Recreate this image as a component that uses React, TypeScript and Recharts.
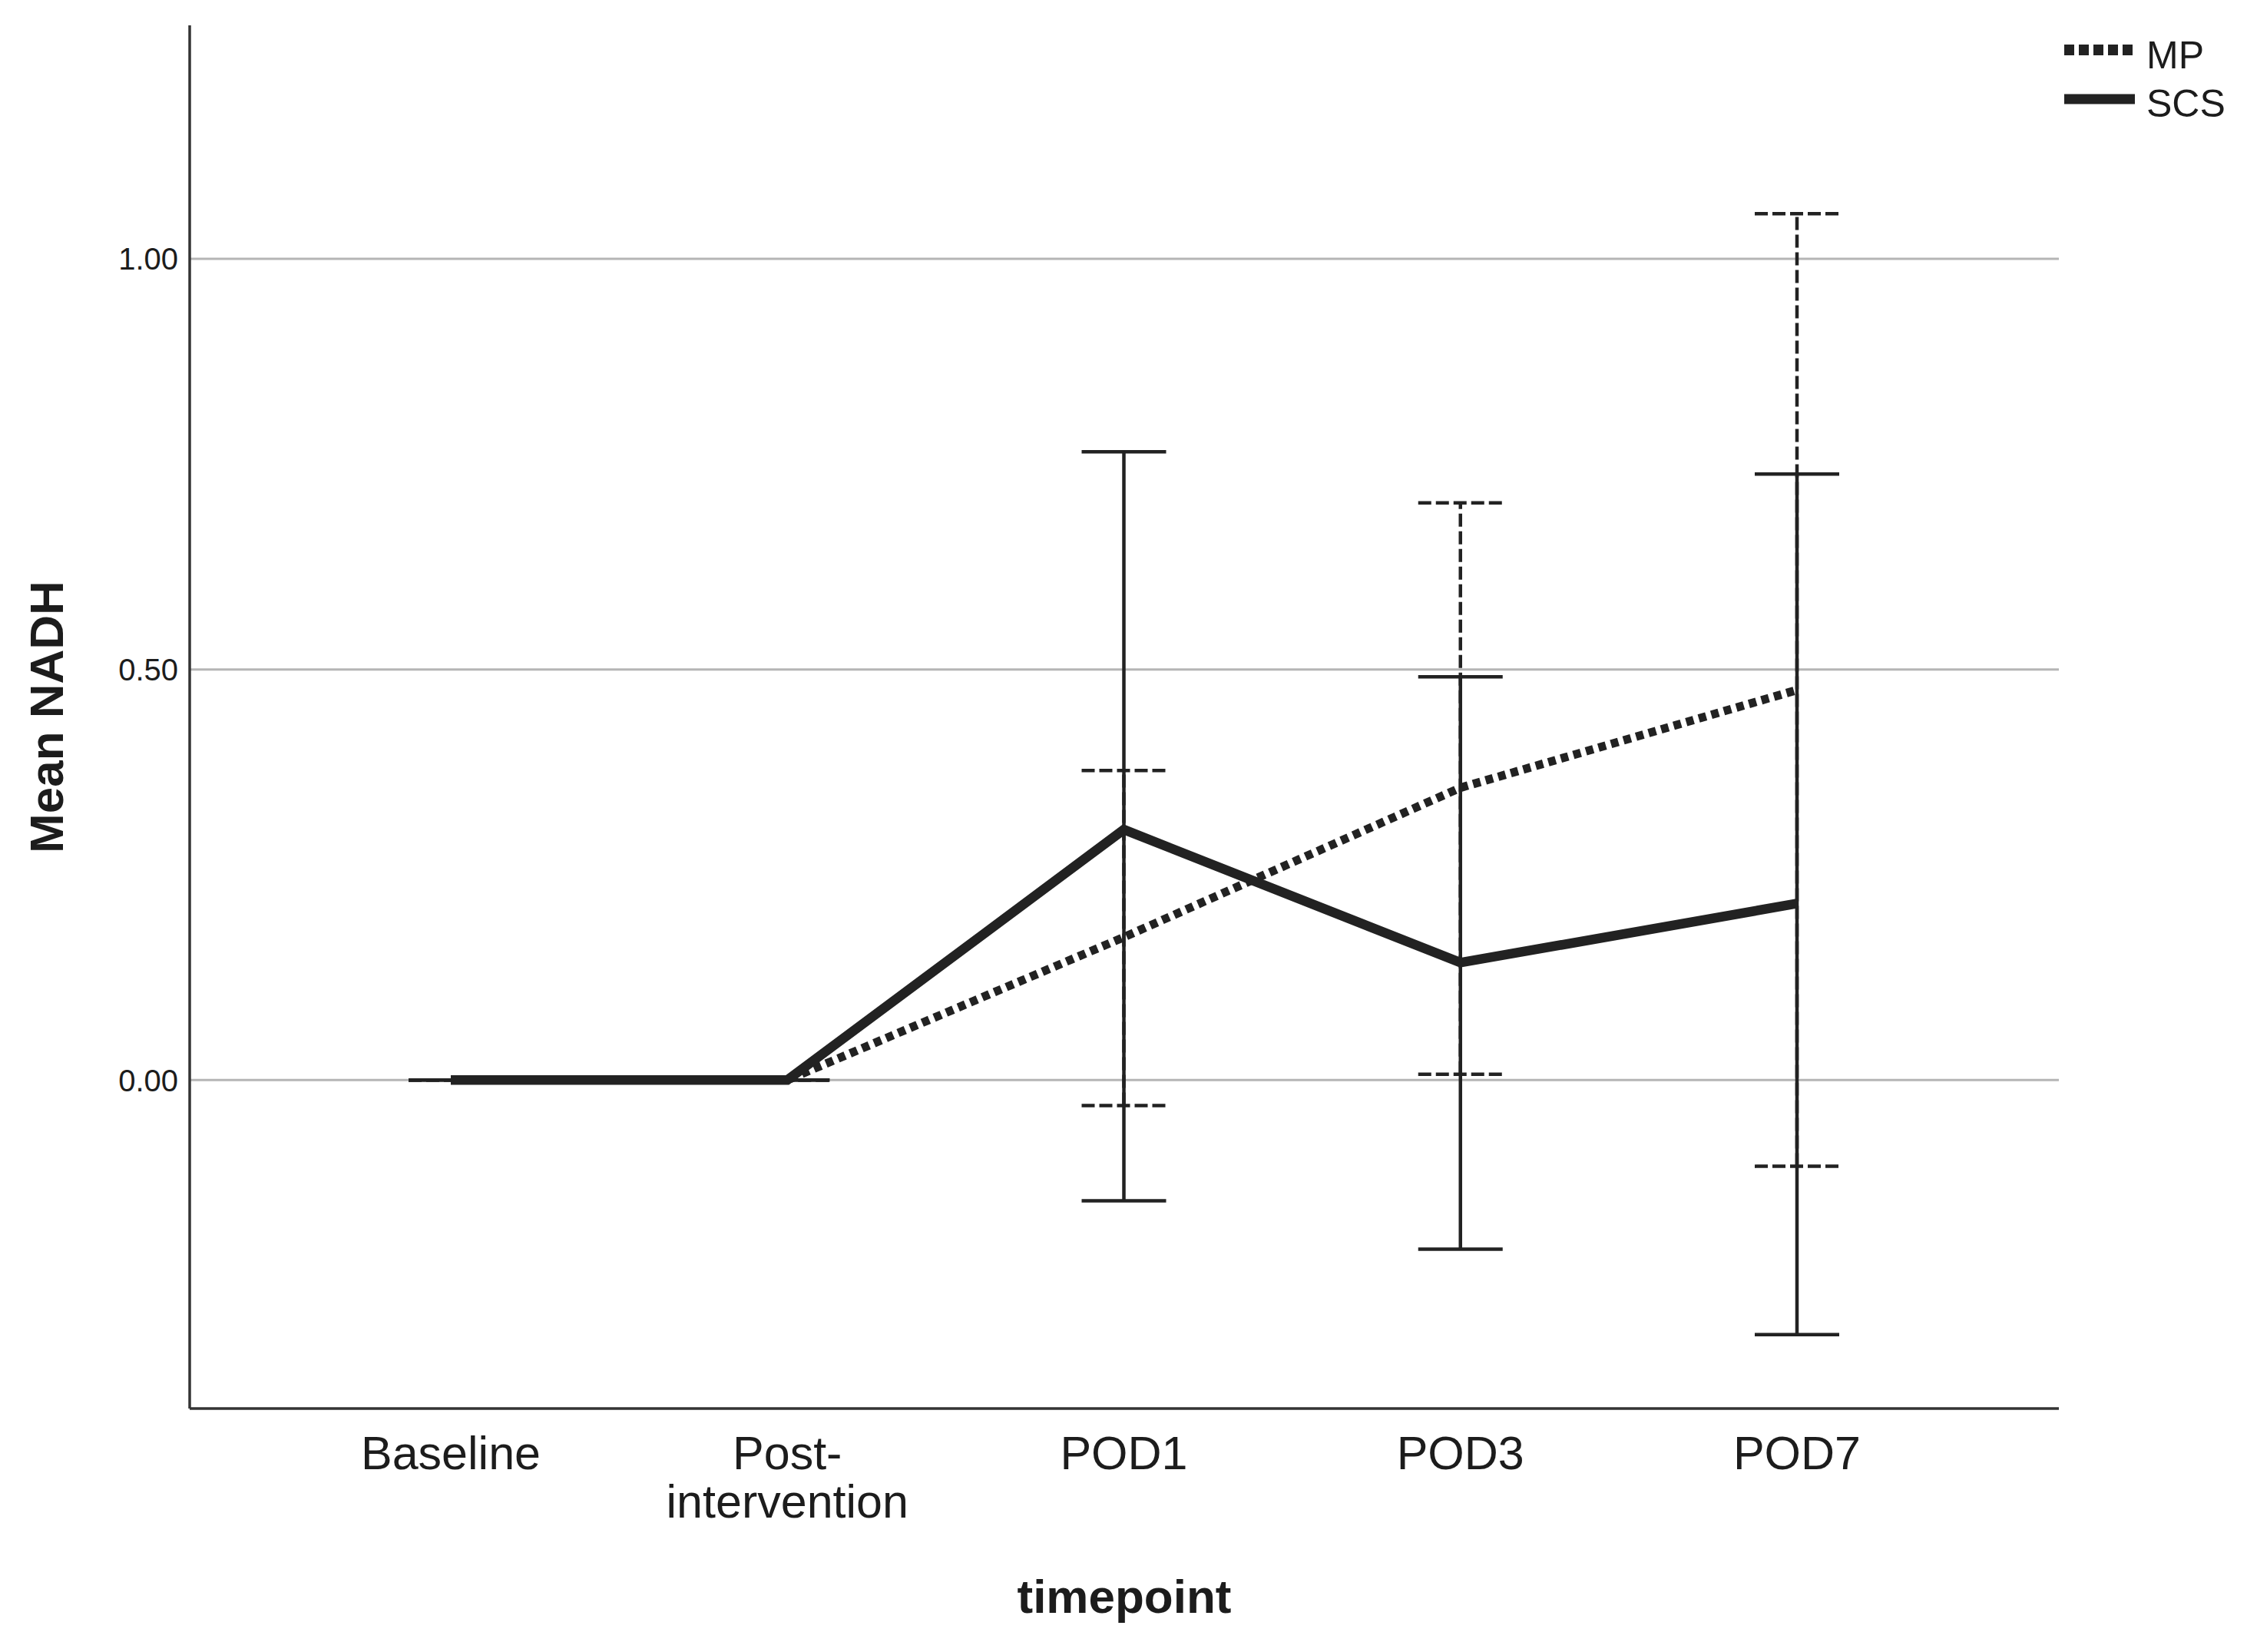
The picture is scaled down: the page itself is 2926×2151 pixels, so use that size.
import React from 'react';
import { LineChart, Line, XAxis, YAxis, CartesianGrid, ErrorBar, Legend, Label } from 'recharts';

const categories = ['Baseline', 'Post-\nintervention', 'POD1', 'POD3', 'POD7'];
const mpMean = [0, 0, 0.174, 0.356, 0.475];
const mpLow = [0, 0, -0.031, 0.007, -0.105];
const mpHigh = [0, 0, 0.377, 0.703, 1.055];
const scsMean = [0, 0, 0.305, 0.143, 0.215];
const scsLow = [0, 0, -0.147, -0.206, -0.31];
const scsHigh = [0, 0, 0.765, 0.491, 0.738];
const yTicks = [0, 0.5, 1.0];
const yDomain: [number, number] = [-0.4, 1.2844];

const data = categories.map((name, i) => ({
  name,
  MP: mpMean[i],
  mpErr: [mpMean[i] - mpLow[i], mpHigh[i] - mpMean[i]],
  SCS: scsMean[i],
  scsErr: [scsMean[i] - scsLow[i], scsHigh[i] - scsMean[i]],
}));

const FONT = '"Liberation Sans", Arial, Helvetica, sans-serif';
const INK = '#222222';
const TEXT = '#1c1c1c';

const XTick = (props: any) => {
  const { x, y, payload } = props;
  const lines = String(payload.value).split('\n');
  return (
    <text x={x} y={y} textAnchor="middle" fill={TEXT} fontSize={61} fontFamily={FONT}>
      {lines.map((l, i) => (
        <tspan key={i} x={x} dy={i === 0 ? 79 : 63}>
          {l}
        </tspan>
      ))}
    </text>
  );
};

const LegendContent = () => (
  <svg width={240} height={170} style={{ display: 'block' }}>
    <line x1={8} y1={65} x2={100} y2={65} stroke={INK} strokeWidth={14} strokeDasharray="13 6" />
    <text x={115} y={89} fontSize={50} fontFamily={FONT} fill={TEXT}>MP</text>
    <line x1={8} y1={129} x2={100} y2={129} stroke={INK} strokeWidth={13} />
    <text x={115} y={152} fontSize={50} fontFamily={FONT} fill={TEXT}>SCS</text>
  </svg>
);

export default function App() {
  return (
    <div style={{ position: 'absolute', left: 0, top: 0, background: '#fff' }}>
      <LineChart
        width={2926}
        height={2151}
        data={data}
        margin={{ top: 33, right: 245, left: 0, bottom: 0 }}
      >
        <CartesianGrid
          vertical={false}
          horizontalValues={yTicks}
          stroke="#b5b5b5"
          strokeWidth={3}
        />
        <XAxis
          dataKey="name"
          type="category"
          scale="point"
          padding={{ left: 340, right: 341 }}
          height={317}
          tickLine={false}
          tickSize={0}
          tickMargin={0}
          interval={0}
          axisLine={{ stroke: '#333', strokeWidth: 3.5 }}
          tick={<XTick />}
        >
          <Label
            content={(p: any) => {
              const vb = p.viewBox;
              return (
                <text
                  x={vb.x + vb.width / 2}
                  y={vb.y + 266}
                  textAnchor="middle"
                  fontSize={62}
                  fontWeight="bold"
                  fontFamily={FONT}
                  fill={TEXT}
                >
                  timepoint
                </text>
              );
            }}
          />
        </XAxis>
        <YAxis
          type="number"
          domain={yDomain}
          allowDataOverflow
          ticks={yTicks}
          width={247}
          tickLine={false}
          tickSize={0}
          tickMargin={15}
          axisLine={{ stroke: '#333', strokeWidth: 3.5 }}
          tickFormatter={(v: number) => v.toFixed(2)}
          tick={{ fontSize: 40, fontFamily: FONT, fill: TEXT }}
        >
          <Label
            content={(p: any) => {
              const vb = p.viewBox;
              const cx = 82;
              const cy = vb.y + vb.height / 2;
              return (
                <text
                  x={cx}
                  y={cy}
                  transform={`rotate(-90, ${cx}, ${cy})`}
                  textAnchor="middle"
                  fontSize={62}
                  fontWeight="bold"
                  fontFamily={FONT}
                  fill={TEXT}
                >
                  Mean NADH
                </text>
              );
            }}
          />
        </YAxis>
        <Legend
          layout="vertical"
          align="center"
          verticalAlign="middle"
          wrapperStyle={{ left: 2680, top: 0, width: 240 }}
          content={() => <LegendContent />}
        />
        <Line
          type="linear"
          dataKey="MP"
          stroke={INK}
          strokeWidth={11}
          strokeDasharray="10 7"
          dot={false}
          activeDot={false}
          isAnimationActive={false}
        >
          <ErrorBar
            dataKey="mpErr"
            direction="y"
            width={55}
            stroke={INK}
            strokeWidth={4.5}
            strokeDasharray="17 6"
            isAnimationActive={false}
          />
        </Line>
        <Line
          type="linear"
          dataKey="SCS"
          stroke={INK}
          strokeWidth={12.5}
          dot={false}
          activeDot={false}
          isAnimationActive={false}
        >
          <ErrorBar
            dataKey="scsErr"
            direction="y"
            width={55}
            stroke={INK}
            strokeWidth={4.5}
            isAnimationActive={false}
          />
        </Line>
      </LineChart>
    </div>
  );
}
